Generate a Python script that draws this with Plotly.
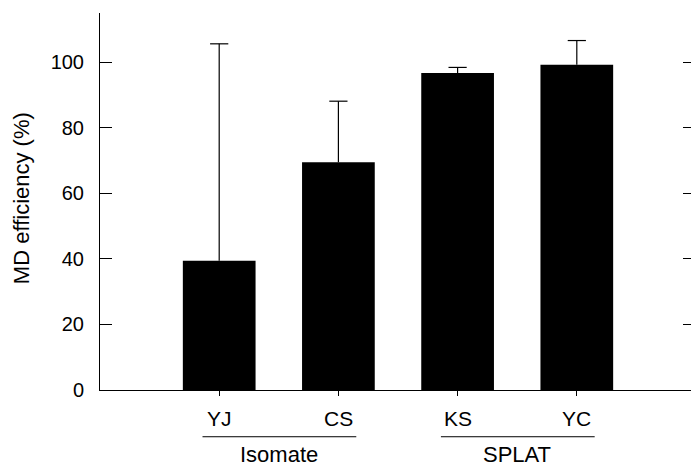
import plotly.graph_objects as go

# ---- data ----
categories = ["YJ", "CS", "KS", "YC"]
efficiency = [39.4, 69.5, 96.7, 99.2]
error_plus = [66.2, 18.6, 1.7, 7.4]
groups = ["Isomate", "SPLAT"]
group_members = [["YJ", "CS"], ["KS", "YC"]]
y_ticks = [0, 20, 40, 60, 80, 100]
y_title = "MD efficiency (%)"

FONT = "Arial, Liberation Sans, sans-serif"
X_RANGE = [-1, 3.958]
Y_RANGE = [0, 115]

fig = go.Figure()
fig.add_trace(go.Bar(
    x=categories, y=efficiency, width=0.61,
    marker=dict(color="black", line=dict(width=0)),
    error_y=dict(type="data", symmetric=False, array=error_plus,
                 arrayminus=[0] * len(categories),
                 color="black", thickness=1.2, width=0),
    showlegend=False, hoverinfo="skip",
))
# upper caps of the error bars
fig.add_trace(go.Scatter(
    x=categories, y=[v + e for v, e in zip(efficiency, error_plus)],
    mode="markers",
    marker=dict(symbol="line-ew", size=13, color="black",
                line=dict(color="black", width=1.2)),
    showlegend=False, hoverinfo="skip", cliponaxis=False,
))
# invisible trace to activate right-hand tick axis
fig.add_trace(go.Scatter(
    x=categories, y=efficiency, yaxis="y2", mode="markers",
    marker=dict(opacity=0), showlegend=False, hoverinfo="skip",
))

fig.update_layout(
    width=691, height=467,
    margin=dict(l=100, r=0, t=13, b=77),
    paper_bgcolor="white", plot_bgcolor="white",
    font=dict(family=FONT, size=20, color="black"),
    xaxis=dict(
        type="category", categoryorder="array", categoryarray=categories,
        range=X_RANGE, showline=True, linecolor="black", linewidth=1,
        ticks="outside", ticklen=5, tickcolor="black", tickwidth=1,
        showticklabels=False, showgrid=False, zeroline=False,
    ),
    yaxis=dict(
        range=Y_RANGE, tickvals=y_ticks, showline=True, linecolor="black",
        linewidth=1, ticks="inside", ticklen=12, tickcolor="black",
        tickwidth=1, showgrid=False, zeroline=False,
        tickfont=dict(family=FONT, size=20), ticklabelstandoff=11,
    ),
    yaxis2=dict(
        range=Y_RANGE, tickvals=y_ticks, overlaying="y", side="right",
        showline=False, ticks="inside", ticklen=8, tickcolor="black",
        tickwidth=1, showticklabels=False, showgrid=False, zeroline=False,
    ),
)

# paper-coordinate helpers from axis ranges
def to_paper_x(v):
    return (v - X_RANGE[0]) / (X_RANGE[1] - X_RANGE[0])

# category labels
for c in categories:
    fig.add_annotation(x=c, xref="x", y=-0.076, yref="paper", text=c,
                       showarrow=False, xanchor="center", yanchor="middle",
                       font=dict(family=FONT, size=21))

# group underline + group labels
for g, members in zip(groups, group_members):
    i0 = categories.index(members[0])
    i1 = categories.index(members[-1])
    fig.add_shape(type="line", xref="paper", yref="paper",
                  x0=to_paper_x(i0 - 0.14), x1=to_paper_x(i1 + 0.15),
                  y0=-0.124, y1=-0.124, line=dict(color="black", width=1))
    fig.add_annotation(x=to_paper_x((i0 + i1) / 2), xref="paper",
                       y=-0.172, yref="paper", text=g, showarrow=False,
                       xanchor="center", yanchor="middle",
                       font=dict(family=FONT, size=22))

# y-axis title
fig.add_annotation(x=-0.133, xref="paper", y=0.51, yref="paper",
                   text=y_title, textangle=-90, showarrow=False,
                   xanchor="center", yanchor="middle",
                   font=dict(family=FONT, size=22))

fig.write_html("out.html")
